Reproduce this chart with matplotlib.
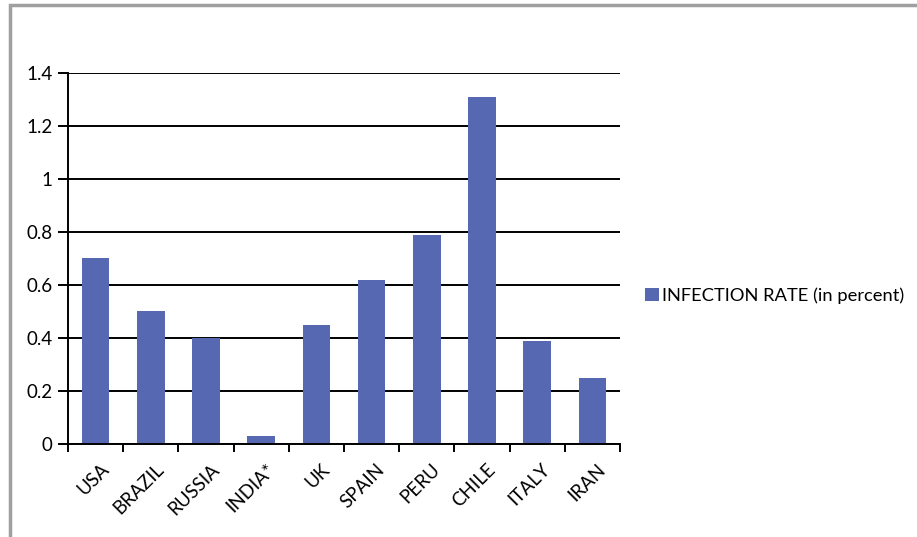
import numpy as np
import matplotlib.pyplot as plt
from matplotlib.patches import Rectangle

countries = ['USA', 'BRAZIL', 'RUSSIA', 'INDIA*', 'UK', 'SPAIN', 'PERU', 'CHILE', 'ITALY', 'IRAN']
infection_rate = [0.70, 0.50, 0.40, 0.03, 0.45, 0.62, 0.79, 1.31, 0.39, 0.25]
y_ticks = [0, 0.2, 0.4, 0.6, 0.8, 1, 1.2, 1.4]
y_labels = ['0', '0.2', '0.4', '0.6', '0.8', '1', '1.2', '1.4']

plt.rcParams['font.family'] = ['Lato', 'DejaVu Sans']
bar_color = '#5568b1'
fs = 13.5

fig = plt.figure(figsize=(9.17, 5.37), dpi=100)
ax = fig.add_axes([0.0742, 0.1732, 0.6019, 0.6909])

x = np.arange(len(countries))
ax.bar(x, infection_rate, width=0.5, color=bar_color, zorder=3,
       label='INFECTION RATE (in percent)')

ax.set_xlim(-0.5, len(countries) - 0.5)
ax.set_ylim(0, 1.4)
ax.set_yticks(y_ticks)
ax.set_yticklabels(y_labels, fontsize=fs)
ax.yaxis.grid(True, color='black', linewidth=1.4, zorder=1)

# category labels in the middle, tick marks between the categories
ax.set_xticks(x + 0.08)
ax.set_xticklabels(countries, rotation=45, ha='right', va='top',
                   rotation_mode='anchor', fontsize=fs)
ax.tick_params(axis='x', which='major', length=0, pad=12)
ax.set_xticks(np.arange(len(countries) + 1) - 0.5, minor=True)
ax.tick_params(axis='x', which='minor', length=6, width=1.4, direction='out')
ax.tick_params(axis='y', length=7, width=1.4, direction='out', pad=4)

for side in ['top', 'right']:
    ax.spines[side].set_visible(False)
for side in ['left', 'bottom']:
    ax.spines[side].set_linewidth(1.4)
    ax.spines[side].set_zorder(4)

fig.legend(loc='center left', bbox_to_anchor=(0.7034, 0.449), frameon=False,
           fontsize=13.2, handlelength=0.75, handleheight=0.75, handletextpad=0.2,
           borderpad=0, borderaxespad=0)

# grey frame around the chart area
fig.patches.append(Rectangle((0.0109, -0.05), 1.05, 1.0407, transform=fig.transFigure,
                             fill=False, edgecolor='#a0a0a0', linewidth=2.5))

fig.savefig('out.png', dpi=100)
